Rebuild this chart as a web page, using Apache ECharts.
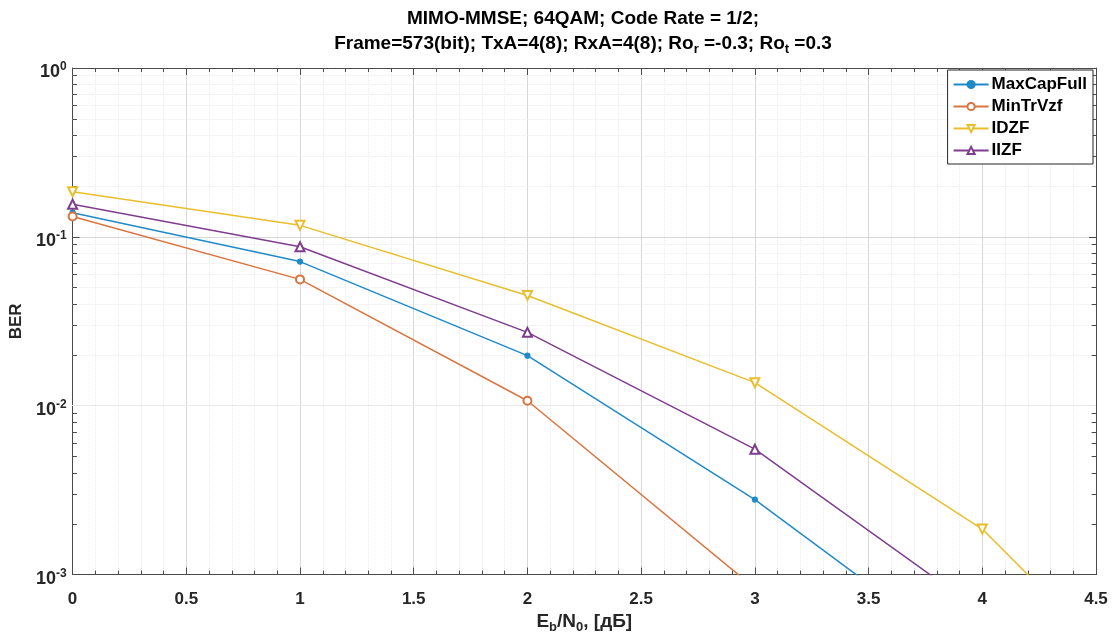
<!DOCTYPE html>
<html>
<head>
<meta charset="utf-8">
<script src="https://cdn.jsdelivr.net/npm/echarts@6/dist/echarts.min.js"></script>
<style>
html,body{margin:0;padding:0;background:#fff;}
#chart{width:1112px;height:639px;}
</style>
</head>
<body>
<div id="chart"></div>
<script>
// ---- data ----
const ebn0 = [0, 1, 2, 3, 4, 5];
const maxCapFull = [0.139, 0.0714, 0.0198, 0.00278, 0.00028];
const minTrVzf   = [0.132, 0.056, 0.0107, 0.00083];
const idzf       = [0.185, 0.117, 0.045, 0.0137, 0.00186, 0.000083];
const iizf       = [0.156, 0.0874, 0.0272, 0.00553, 0.0006];
const seriesNames = ['MaxCapFull', 'MinTrVzf', 'IDZF', 'IIZF'];
const xTicks = [0, 0.5, 1, 1.5, 2, 2.5, 3, 3.5, 4, 4.5];
const yDecades = [-3, -2, -1, 0];

const FONT = '"Liberation Sans", Arial, sans-serif';
const AXIS_COLOR = '#4a4a4a';
const colors = ['#1f8ac9', '#d8743f', '#e9be2c', '#7f3d8e'];

function pts(arr) { return arr.map((v, i) => [ebn0[i], v]); }

// minor y grid values (2..9 per decade)
const minorY = [];
for (let d = -3; d < 0; d++) for (let k = 2; k <= 9; k++) minorY.push(+(k * Math.pow(10, d)).toPrecision(3));

const minorGridLines = minorY.map(v => ({ yAxis: v }));
const tickLines = [];
minorY.forEach(v => {
  tickLines.push([{ coord: [0, v] }, { coord: [0.019, v] }]);
  tickLines.push([{ coord: [4.5 - 0.019, v] }, { coord: [4.5, v] }]);
});

const chart = echarts.init(document.getElementById('chart'), null, { renderer: 'canvas' });

const labelRich = {
  b: { fontFamily: FONT, fontWeight: 'bold', fontSize: 18, color: '#262626', lineHeight: 20, verticalAlign: 'bottom' },
  e: { fontFamily: FONT, fontWeight: 'bold', fontSize: 12, color: '#262626', lineHeight: 12, verticalAlign: 'top' }
};

function mkSeries(name, arr, idx, symbol, size, rotate) {
  return {
    name: name,
    type: 'line',
    data: pts(arr),
    clip: true,
    symbol: symbol,
    symbolSize: size,
    symbolRotate: rotate || 0,
    showAllSymbol: true,
    lineStyle: { color: colors[idx], width: 1.5 },
    itemStyle: { color: colors[idx], borderColor: colors[idx], borderWidth: 1.2 },
    z: 5
  };
}

const option = {
  animation: false,
  backgroundColor: '#ffffff',
  grid: { left: 71, right: 16, top: 68, bottom: 58, containLabel: false },
  graphic: [{
    type: 'text',
    x: 583, y: 6,
    z: 10,
    style: {
      text: '{t|MIMO-MMSE; 64QAM; Code Rate = 1/2;}\n{t|Frame=573(bit); TxA=4(8); RxA=4(8); Ro}{s|r}{t| =-0.3; Ro}{s|t}{t| =0.3}',
      align: 'center',
      verticalAlign: 'top',
      rich: {
        t: { fontFamily: FONT, fontWeight: 'bold', fontSize: 19, color: '#000', lineHeight: 25, verticalAlign: 'middle' },
        s: { fontFamily: FONT, fontWeight: 'bold', fontSize: 13, color: '#000', lineHeight: 12, verticalAlign: 'bottom' }
      }
    }
  }],
  legend: {
    orient: 'vertical',
    right: 19, top: 70,
    z: 20,
    padding: [6, 6, 5, 5],
    itemWidth: 35, itemHeight: 9, itemGap: 5,
    backgroundColor: '#fff',
    borderColor: '#262626', borderWidth: 1, borderRadius: 0,
    textStyle: { fontFamily: FONT, fontWeight: 'bold', fontSize: 17, color: '#000', padding: [0, 0, 0, -2] },
    data: seriesNames
  },
  xAxis: [{
    type: 'value', min: 0, max: 4.5, interval: 0.5,
    position: 'bottom',
    name: '{t|E}{s|b}{t|/N}{s|0}{t|, [дБ]}',
    nameLocation: 'middle', nameGap: 35,
    nameTextStyle: {
      rich: {
        t: { fontFamily: FONT, fontWeight: 'bold', fontSize: 19, color: '#262626', lineHeight: 24, verticalAlign: 'middle' },
        s: { fontFamily: FONT, fontWeight: 'bold', fontSize: 13, color: '#262626', lineHeight: 12, verticalAlign: 'bottom' }
      }
    },
    axisLine: { show: true, onZero: false, lineStyle: { color: AXIS_COLOR, width: 1 } },
    axisTick: { show: true, inside: true, length: 7, lineStyle: { color: AXIS_COLOR } },
    minorTick: { show: true, splitNumber: 5, length: 4, lineStyle: { color: AXIS_COLOR } },
    axisLabel: { fontFamily: FONT, fontWeight: 'bold', fontSize: 17, color: '#262626', margin: 16,
      formatter: v => String(v) },
    splitLine: { show: true, lineStyle: { color: '#d8d8d8', width: 1 } },
    minorSplitLine: { show: true, lineStyle: { color: '#ebebeb', width: 1, type: 'dotted' } }
  }, {
    type: 'value', min: 0, max: 4.5, interval: 0.5,
    position: 'top',
    axisLine: { show: true, onZero: false, lineStyle: { color: AXIS_COLOR, width: 1 } },
    axisTick: { show: true, inside: true, length: 7, lineStyle: { color: AXIS_COLOR } },
    minorTick: { show: true, splitNumber: 5, length: 4, lineStyle: { color: AXIS_COLOR } },
    axisLabel: { show: false },
    splitLine: { show: false }
  }],
  yAxis: [{
    type: 'log', logBase: 10, min: 0.001, max: 1,
    position: 'left',
    name: 'BER',
    nameLocation: 'middle', nameGap: 36, nameRotate: 90,
    nameTextStyle: { fontFamily: FONT, fontWeight: 'bold', fontSize: 17, color: '#262626' },
    axisLine: { show: true, onZero: false, lineStyle: { color: AXIS_COLOR, width: 1 } },
    axisTick: { show: true, inside: true, length: 7, lineStyle: { color: AXIS_COLOR } },
    axisLabel: {
      margin: 6,
      padding: [6, 0, 0, 0],
      formatter: v => '{b|10}{e|' + Math.round(Math.log10(v)) + '}',
      rich: labelRich
    },
    splitLine: { show: true, lineStyle: { color: '#d8d8d8', width: 1 } }
  }, {
    type: 'log', logBase: 10, min: 0.001, max: 1,
    position: 'right',
    axisLine: { show: true, onZero: false, lineStyle: { color: AXIS_COLOR, width: 1 } },
    axisTick: { show: true, inside: true, length: 7, lineStyle: { color: AXIS_COLOR } },
    axisLabel: { show: false },
    splitLine: { show: false }
  }],
  series: [
    mkSeries(seriesNames[0], maxCapFull, 0, 'circle', 5),
    mkSeries(seriesNames[1], minTrVzf, 1, 'emptyCircle', 8),
    mkSeries(seriesNames[2], idzf, 2, 'emptyTriangle', 9, 180),
    mkSeries(seriesNames[3], iizf, 3, 'emptyTriangle', 9),
    {
      name: '_grid', type: 'line', data: [], silent: true, z: 1,
      markLine: {
        silent: true, symbol: ['none', 'none'], animation: false,
        label: { show: false },
        lineStyle: { color: '#ebebeb', width: 1, type: 'dotted' },
        data: minorGridLines
      }
    },
    {
      name: '_ticks', type: 'line', data: [], silent: true, z: 3,
      markLine: {
        silent: true, symbol: ['none', 'none'], animation: false,
        label: { show: false },
        lineStyle: { color: AXIS_COLOR, width: 1, type: 'solid' },
        data: tickLines
      }
    }
  ]
};

chart.setOption(option);
</script>
</body>
</html>
